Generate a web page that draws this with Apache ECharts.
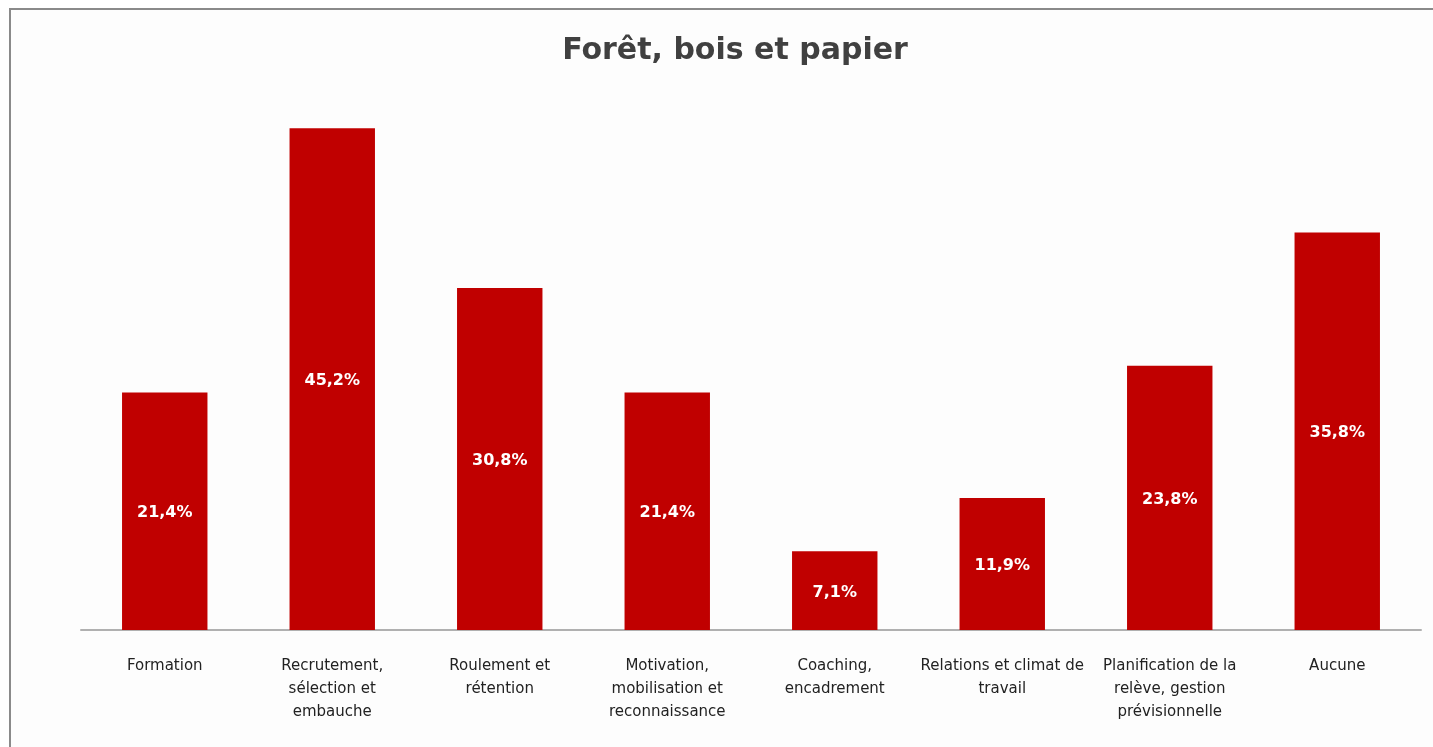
<!DOCTYPE html>
<html lang="fr">
<head>
<meta charset="utf-8">
<title>Forêt, bois et papier</title>
<script src="https://cdn.jsdelivr.net/npm/echarts@6/dist/echarts.min.js"></script>
<style>
  html, body { margin: 0; padding: 0; background: #ffffff; overflow: hidden; width: 1433px; height: 747px; }
  #frame {
    position: absolute; left: 9px; top: 8px; width: 2000px; height: 1000px;
    border-left: 2px solid #8a8a8a; border-top: 2px solid #8a8a8a;
    background: #fdfdfd; box-sizing: border-box;
  }
  #chart { position: absolute; left: 0; top: 0; width: 1433px; height: 747px; }
</style>
</head>
<body>
<div id="frame"></div>
<div id="chart"></div>
<script>
// Catégories (axe horizontal) et pourcentages par catégorie
const categories = [
  "Formation",
  "Recrutement,\nsélection et\nembauche",
  "Roulement et\nrétention",
  "Motivation,\nmobilisation et\nreconnaissance",
  "Coaching,\nencadrement",
  "Relations et climat de\ntravail",
  "Planification de la\nrelève, gestion\nprévisionnelle",
  "Aucune"
];
const values = [21.4, 45.2, 30.8, 21.4, 7.1, 11.9, 23.8, 35.8];

const chart = echarts.init(document.getElementById('chart'), null, { renderer: 'canvas' });

chart.setOption({
  backgroundColor: 'transparent',
  animation: false,
  title: {
    text: 'Forêt, bois et papier',
    left: 730,
    top: 31,
    textAlign: 'center',
    textStyle: {
      fontFamily: 'DejaVu Sans',
      fontWeight: 'bold',
      fontSize: 30,
      color: '#404040'
    }
  },
  grid: { left: 81, right: 12, top: 75, bottom: 117, containLabel: false },
  xAxis: {
    type: 'category',
    data: categories,
    axisLine: { show: true, lineStyle: { color: '#b0b0b0', width: 2 } },
    axisTick: { show: false },
    axisLabel: {
      interval: 0,
      margin: 25,
      fontFamily: 'DejaVu Sans',
      fontSize: 15,
      lineHeight: 23,
      color: '#222222',
      align: 'center'
    }
  },
  yAxis: {
    type: 'value',
    min: 0,
    max: 50,
    show: false,
    splitLine: { show: false }
  },
  series: [{
    type: 'bar',
    data: values,
    barWidth: '51%',
    itemStyle: { color: '#c00000' },
    label: {
      show: true,
      position: 'inside',
      offset: [0, 2],
      formatter: p => p.value.toFixed(1).replace('.', ',') + '%',
      fontFamily: 'DejaVu Sans',
      fontWeight: 'bold',
      fontSize: 16,
      color: '#ffffff'
    }
  }]
});
</script>
</body>
</html>
